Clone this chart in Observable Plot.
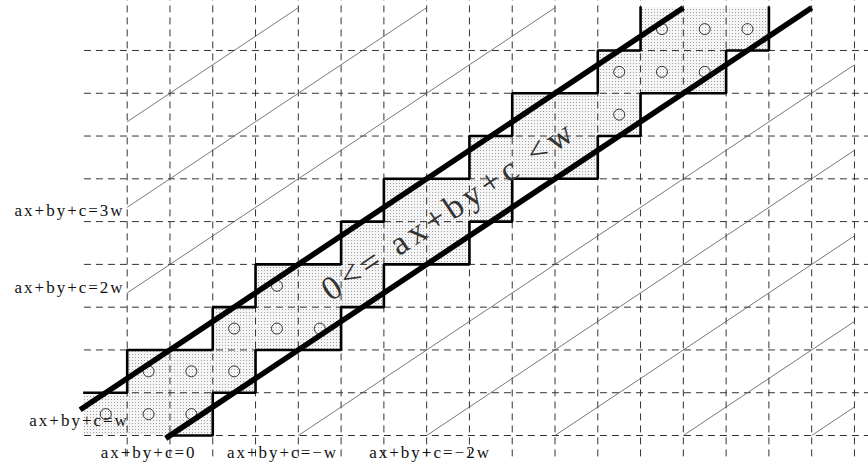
<!DOCTYPE html>
<html><head><meta charset="utf-8">
<script src="https://cdn.jsdelivr.net/npm/d3@7"></script>
<script src="https://cdn.jsdelivr.net/npm/@observablehq/plot@0.6"></script>
<style>
body{margin:0;background:#fff;}
#chart svg{display:block}
</style>
</head><body><div id="chart"></div>
<script>
// ---- data (all in grid-cell units) ----
const gridCols = [0,1,2,3,4,5,6,7,8,9,10,11,12,13,14,15,16,17]; // vertical dashed lines
const gridRows = [0,1,2,3,4,5,6,7,8,9];                          // horizontal dashed lines

// staircase band: first shaded column for each row, each row 3 cells wide
const bandRows  = [0,1,2,3,4,5,6,7,8,9];
const rowStart  = [-1,0,2,3,5,6,8,9,11,12];
const rowWidth  = 3;

// cells holding a small circle
const circleCol = [-1,0,1, 0,1,2, 2,3,4, 3, 11, 11,12,13, 12,13,14];
const circleRow = [ 0,0,0, 1,1,1, 2,2,2, 3,  7,  8, 8, 8,  9, 9, 9];

// level lines ax+by+c = k·w
const thinK     = [4,3,2,-1,-2,-3,-4,-5];
const thickK    = [1,0];
const thickFrom = [-1.1,0.9];
const thickTo   = [13,16];

// labels
const labelText = ["ax+by+c=3w","ax+by+c=2w","ax+by+c=w","ax+by+c=0","ax+by+c=−w","ax+by+c=−2w"];
const labelI    = [-0.06,-0.06,0.04, 0.5,3.63,7.08];
const labelJ    = [5.26,3.46,0.35, -0.41,-0.41,-0.41];
const bandText  = "0<= ax+by+c <w";
const bandTextI = 7.52, bandTextJ = 5.27;

// ---- derived geometry ----
const lineJ = (i, k) => (2/3) * (i - 1) + 2 * k;   // line of level k
const iMin = 0, iMax = 17, jMax = 10;

const thin = thinK.map(k => {
  const a = Math.max(iMin, 1 - 3 * k), b = Math.min(iMax, 1 + 1.5 * (jMax - 2 * k));
  return {x1: a, y1: lineJ(a, k), x2: b, y2: lineJ(b, k)};
});
const thick = thickK.map((k, n) => ({x1: thickFrom[n], y1: lineJ(thickFrom[n], k), x2: thickTo[n], y2: lineJ(thickTo[n], k)}));

const cells = bandRows.map((r, n) => ({x1: rowStart[n], x2: rowStart[n] + rowWidth, y1: r, y2: r + 1}));
const circles = circleCol.map((c, n) => ({x: c + 0.5, y: circleRow[n] + 0.5}));

// outline of the staircase (two open polylines)
const outline = [];
outline.push({s: "R", x: 0.95, y: 0});
bandRows.forEach((r, n) => {
  outline.push({s: "R", x: rowStart[n] + rowWidth, y: r});
  outline.push({s: "R", x: rowStart[n] + rowWidth, y: r + 1});
});
outline.push({s: "L", x: rowStart[0], y: 1});
bandRows.slice(1).forEach((r, n) => {
  outline.push({s: "L", x: rowStart[n + 1], y: r});
  outline.push({s: "L", x: rowStart[n + 1], y: r + 1});
});

const labels = labelText.map((t, n) => ({t, x: labelI[n], y: labelJ[n]}));

const cell = 42.78, x0px = 126.7, y0px = 435;
const W = 868, H = 465;

const svg = Plot.plot({
  width: W, height: H, margin: 0,
  x: {domain: [-x0px / cell, (W - x0px) / cell], range: [0, W], axis: null},
  y: {domain: [-(H - y0px) / cell, y0px / cell], range: [H, 0], axis: null},
  style: {background: "#fff"},
  marks: [
    Plot.rect(cells, {x1: "x1", x2: "x2", y1: "y1", y2: "y2", fill: "url(#dots)"}),
    Plot.ruleX(gridCols, {x: d => d, y1: -0.5, y2: 10.17, stroke: "#333", strokeWidth: 1, strokeDasharray: "7,5"}),
    Plot.ruleY(gridRows, {y: d => d, x1: -1, x2: 17.4, stroke: "#333", strokeWidth: 1, strokeDasharray: "7,5"}),
    Plot.link(thin, {x1: "x1", y1: "y1", x2: "x2", y2: "y2", stroke: "#555", strokeWidth: 0.8}),
    Plot.dot(circles, {x: "x", y: "y", r: 5.5, stroke: "#222", strokeWidth: 0.9, fill: "none"}),
    Plot.line(outline, {x: "x", y: "y", z: "s", stroke: "#000", strokeWidth: 2.6, strokeLinejoin: "miter", strokeLinecap: "square", curve: "linear"}),
    Plot.link(thick, {x1: "x1", y1: "y1", x2: "x2", y2: "y2", stroke: "#000", strokeWidth: 5.5, strokeLinecap: "butt"}),
    Plot.text(labels.slice(0, 3), {x: "x", y: "y", text: "t", textAnchor: "end", fontSize: 17, fontFamily: "Liberation Serif", fill: "#111"}),
    Plot.text(labels.slice(3), {x: "x", y: "y", text: "t", textAnchor: "middle", fontSize: 17, fontFamily: "Liberation Serif", fill: "#111"}),
    Plot.text([bandText], {x: () => bandTextI, y: () => bandTextJ, text: d => d, rotate: -33.7, fontSize: 34, fontFamily: "Liberation Serif", fill: "#333"})
  ]
});

d3.select(svg).insert("defs", ":first-child").html(
  '<pattern id="dots" width="3" height="3" patternUnits="userSpaceOnUse">' +
  '<rect width="3" height="3" fill="#f5f5f5"/><rect width="1" height="1" fill="#a0a0a0"/></pattern>'
);
d3.select(svg).selectAll("text").each(function() {
  this.style.letterSpacing = this.textContent === bandText ? "4.5px" : "2px";
});
document.getElementById("chart").appendChild(svg);
</script>
</body></html>
